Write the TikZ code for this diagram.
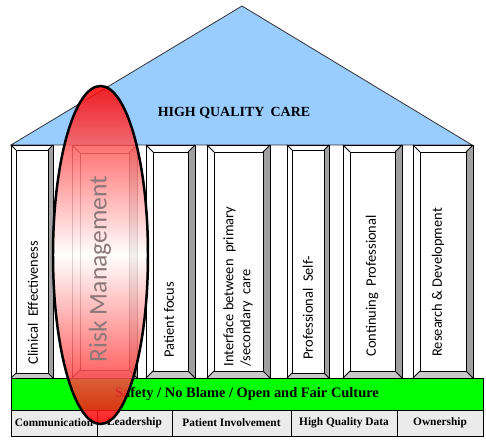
\documentclass[tikz,border=0pt]{standalone}
\usepackage{fontspec}
\setmainfont{Liberation Serif}
\newfontfamily\pillarfont{Carlito}
\usetikzlibrary{shapes.geometric, positioning}
\definecolor{roofblue}{HTML}{99CCFF}
\definecolor{culturegreen}{HTML}{00FF00}
\definecolor{bevelright}{HTML}{A0A0A0}
\definecolor{bevelbottom}{HTML}{C8C8C8}
\definecolor{cellgray}{HTML}{EBEBEB}
\definecolor{rmgray}{HTML}{8C7878}

\begin{document}
\begin{tikzpicture}[x=1bp, y=-1bp, line width=0.8pt,
    pillartext/.style={rotate=90, anchor=west, inner sep=0pt, font=\pillarfont\fontsize{14.5}{17}\selectfont},
    cell/.style={draw=black, fill=cellgray, inner sep=0pt, outer sep=0pt, minimum height=26bp, font=\bfseries\fontsize{11.4}{13}\selectfont},
    culture/.style={draw=black, fill=culturegreen, inner sep=0pt, minimum width=472bp, minimum height=32bp, font=\bfseries\fontsize{14.5}{16}\selectfont},
    riskoval/.style={ellipse, draw=black, line width=2.5pt, top color=red, bottom color=red, middle color=white, fill opacity=0.85, minimum width=95bp, minimum height=338bp} ]
    \useasboundingbox (0,0) rectangle (486,444);

    %Roof
    \draw[fill=roofblue, draw=black!80] (11,145) -- (242,6) -- (472,145) -- cycle;
    \node[font=\bfseries\fontsize{14}{16}\selectfont] (hqc) at (234,113) {HIGH QUALITY\hspace{0.45em}CARE};

    %Pillars
    \foreach \l/\r/\b in {11/53/5, 72/137/8, 146/195/7, 207/270/7, 287/329/5, 343/402/7, 413/473/7}{
        \fill[white] (\l,145) rectangle (\r,378);
        \fill[bevelright] (\r,145) -- (\r,378) -- ({\r-\b},{378-\b}) -- ({\r-\b},{145+\b}) -- cycle;
        \fill[bevelbottom] (\l,378) -- (\r,378) -- ({\r-\b},{378-\b}) -- ({\l+\b},{378-\b}) -- cycle;
        \draw (\l,145) rectangle (\r,378) ({\l+\b},{145+\b}) rectangle ({\r-\b},{378-\b});
        \draw (\l,145) -- ({\l+\b},{145+\b}) (\r,145) -- ({\r-\b},{145+\b})
              (\l,378) -- ({\l+\b},{378-\b}) (\r,378) -- ({\r-\b},{378-\b});
    }

    %Pillar texts
    \node[pillartext] (clin) at (33,365) {Clinical\ \ Effectiveness};
    \node[pillartext] (focus) at (169,358) {Patient focus};
    \node[pillartext, anchor=north west, align=left] (iface) at (223,367) {Interface between\ \ primary\\/secondary\ \ care};
    \node[pillartext] (self) at (308,360) {Professional\ \ Self-};
    \node[pillartext] (cont) at (372,357) {Continuing\ \ Professional};
    \node[pillartext] (rnd) at (438,357) {Research \& Development};

    %Base
    \node[culture] (safety) at (247,394) {Safety / No Blame / Open and Fair Culture};
    \node[cell, minimum width=86bp] (comm) at (54,423) {Communication};
    \node[cell, minimum width=75bp] (lead) [right=0pt of comm] {Leadership};
    \node[cell, minimum width=119bp] (pinv) [right=0pt of lead] {Patient Involvement};
    \node[cell, minimum width=106bp] (hqd) [right=0pt of pinv] {High Quality Data};
    \node[cell, minimum width=86bp] (own) [right=0pt of hqd] {Ownership};

    %Risk
    \node[riskoval] (risk) at (100.5,255) {};
    \node[rotate=90, text=rmgray, font=\pillarfont\fontsize{25.7}{30}\selectfont] (risktext) at (100,269) {Risk Management};
\end{tikzpicture}
\end{document}
